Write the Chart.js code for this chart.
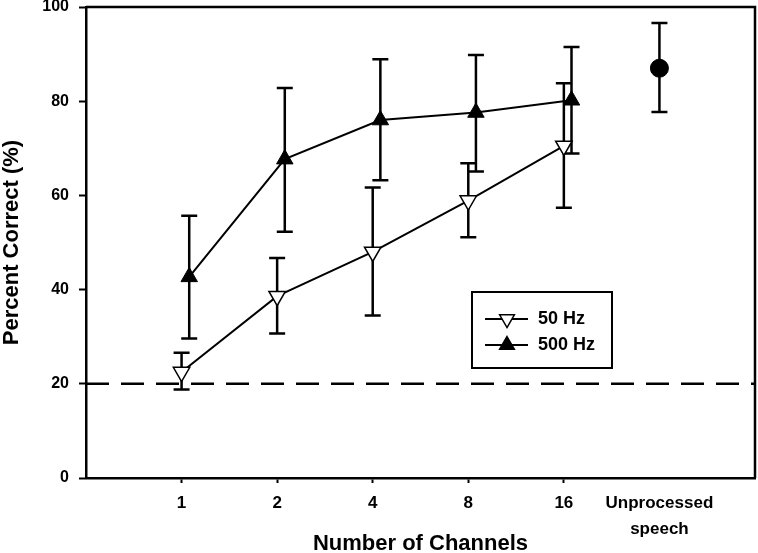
<!DOCTYPE html>
<html>
<head>
<meta charset="utf-8">
<script src="https://cdn.jsdelivr.net/npm/chart.js@4"></script>
<style>
  html, body { margin: 0; padding: 0; background: #fff; }
  #wrap { width: 758px; height: 553px; }
</style>
</head>
<body>
<div id="wrap"><canvas id="c" width="758" height="553"></canvas></div>
<script>
// ---- data ----
const channelLabels = ['1', '2', '4', '8', '16', ['Unprocessed', 'speech']];
const hz50Mean  = [22.5, 38.6, 48.0, 58.9, 70.5];
const hz50Upper = [26.6, 46.7, 61.7, 66.8, 83.8];
const hz50Lower = [18.8, 30.7, 34.5, 51.1, 57.4];
const hz500Mean  = [42.7, 67.7, 76.0, 77.6, 80.2];
const hz500Upper = [55.7, 82.8, 88.9, 89.8, 91.5];
const hz500Lower = [29.6, 52.3, 63.2, 65.1, 68.9];
const unprocMean  = [87.0];
const unprocUpper = [96.6];
const unprocLower = [77.7];
const chanceLevel = 20;
const yTicks = [0, 20, 40, 60, 80, 100];
const seriesOffset500 = 0.08;

const FONT = "'Liberation Sans', Arial, Helvetica, sans-serif";

const catPos = channelLabels.map((_, i) => i + 1);
const pts = (xs, ys, off) => ys.map((v, i) => ({ x: xs[i] + (off || 0), y: v }));

const errorBarPlugin = {
  id: 'errorBars',
  beforeDatasetsDraw(chart) {
    const ctx = chart.ctx;
    const ys = chart.scales.y;
    ctx.save();
    ctx.strokeStyle = '#000';
    ctx.lineWidth = 2.5;
    chart.data.datasets.forEach((ds, di) => {
      if (!ds.errUpper) return;
      const meta = chart.getDatasetMeta(di);
      meta.data.forEach((el, i) => {
        const x = el.x;
        const yt = ys.getPixelForValue(ds.errUpper[i]);
        const yb = ys.getPixelForValue(ds.errLower[i]);
        const cap = 8;
        ctx.beginPath();
        ctx.moveTo(x, yt); ctx.lineTo(x, yb);
        ctx.moveTo(x - cap, yt); ctx.lineTo(x + cap, yt);
        ctx.moveTo(x - cap, yb); ctx.lineTo(x + cap, yb);
        ctx.stroke();
      });
    });
    ctx.restore();
  }
};

const framePlugin = {
  id: 'frame',
  afterDraw(chart) {
    const { ctx, chartArea: a } = chart;
    ctx.save();
    ctx.strokeStyle = '#000';
    ctx.lineWidth = 2.5;
    ctx.beginPath();
    ctx.moveTo(a.left, a.top);
    ctx.lineTo(a.right, a.top);
    ctx.lineTo(a.right, a.bottom);
    ctx.stroke();
    ctx.restore();
  }
};

function tri(ctx, x, y, r, down, fill) {
  const s = down ? -1 : 1;
  ctx.beginPath();
  ctx.moveTo(x, y - s * r);
  ctx.lineTo(x + r * Math.sin(Math.PI * 2 / 3), y + s * r / 2);
  ctx.lineTo(x - r * Math.sin(Math.PI * 2 / 3), y + s * r / 2);
  ctx.closePath();
  ctx.fillStyle = fill;
  ctx.fill();
  ctx.lineWidth = 1.5;
  ctx.strokeStyle = '#000';
  ctx.stroke();
}

const legendPlugin = {
  id: 'boxLegend',
  afterDraw(chart) {
    const ctx = chart.ctx;
    ctx.save();
    ctx.strokeStyle = '#000';
    ctx.lineWidth = 2;
    ctx.strokeRect(472, 292, 140, 76);
    const items = [
      { label: '50 Hz', y: 319, down: true, fill: '#fff' },
      { label: '500 Hz', y: 345, down: false, fill: '#000' }
    ];
    items.forEach(it => {
      ctx.beginPath();
      ctx.strokeStyle = '#000';
      ctx.lineWidth = 2;
      ctx.moveTo(485, it.y); ctx.lineTo(528, it.y);
      ctx.stroke();
      tri(ctx, 507, it.y, 8.5, it.down, it.fill);
      ctx.fillStyle = '#000';
      ctx.font = "bold 18px " + FONT;
      ctx.textAlign = 'left';
      ctx.textBaseline = 'middle';
      ctx.fillText(it.label, 538, it.y);
    });
    ctx.restore();
  }
};

const zeroPad = (s) => { s.paddingTop = 0; s.paddingBottom = 0; s.paddingLeft = 0; s.paddingRight = 0; };

new Chart(document.getElementById('c'), {
  type: 'line',
  data: {
    datasets: [
      {
        label: 'chance',
        data: [{ x: 0, y: chanceLevel }, { x: channelLabels.length + 1, y: chanceLevel }],
        borderColor: '#000', borderWidth: 2.5, borderDash: [23, 12],
        pointRadius: 0, order: 10
      },
      {
        label: '50 Hz',
        data: pts(catPos, hz50Mean),
        errUpper: hz50Upper, errLower: hz50Lower,
        borderColor: '#000', borderWidth: 2,
        pointStyle: 'triangle', rotation: 180, pointRadius: 9.5,
        pointBackgroundColor: '#fff', pointBorderColor: '#000', pointBorderWidth: 1.5,
        order: 2
      },
      {
        label: '500 Hz',
        data: pts(catPos, hz500Mean, seriesOffset500),
        errUpper: hz500Upper, errLower: hz500Lower,
        borderColor: '#000', borderWidth: 2,
        pointStyle: 'triangle', pointRadius: 9.5,
        pointBackgroundColor: '#000', pointBorderColor: '#000', pointBorderWidth: 1,
        order: 1
      },
      {
        label: 'Unprocessed',
        data: pts([catPos[5]], unprocMean),
        errUpper: unprocUpper, errLower: unprocLower,
        showLine: false,
        pointStyle: 'circle', pointRadius: 9,
        pointBackgroundColor: '#000', pointBorderColor: '#000',
        order: 0
      }
    ]
  },
  options: {
    responsive: false,
    animation: false,
    events: [],
    clip: false,
    layout: { autoPadding: false, padding: { top: 7, right: 3, left: 0, bottom: 0 } },
    plugins: { legend: { display: false }, tooltip: { enabled: false } },
    scales: {
      x: {
        type: 'linear',
        min: 0, max: channelLabels.length + 1,
        afterBuildTicks: (s) => { s.ticks = catPos.map(v => ({ value: v })); },
        afterFit: (s) => { s.height = 75; zeroPad(s); },
        border: { display: true, color: '#000', width: 2.5 },
        grid: {
          drawOnChartArea: false, drawTicks: true, tickLength: 5,
          tickWidth: 2,
          tickColor: (c) => (c.tick && c.tick.value === catPos[5]) ? 'rgba(0,0,0,0)' : '#000'
        },
        ticks: {
          autoSkip: false, maxRotation: 0, padding: 7,
          color: '#000',
          font: { family: FONT, size: 17, weight: 'bold', lineHeight: 1.55 },
          callback: (v) => channelLabels[v - 1]
        },
        title: {
          display: true, text: 'Number of Channels', color: '#000',
          font: { family: FONT, size: 22, weight: 'bold', lineHeight: 1 },
          padding: { top: 0, bottom: -2 }
        }
      },
      y: {
        min: 0, max: 100,
        afterBuildTicks: (s) => { s.ticks = yTicks.map(v => ({ value: v })); },
        afterFit: (s) => { s.width = 86; zeroPad(s); },
        border: { display: true, color: '#000', width: 2.5 },
        grid: { drawOnChartArea: false, drawTicks: true, tickLength: 7, tickWidth: 2, tickColor: '#000' },
        ticks: {
          padding: 10, color: '#000',
          font: { family: FONT, size: 16, weight: 'bold', lineHeight: 1 }
        },
        title: {
          display: true, text: 'Percent Correct (%)', color: '#000',
          font: { family: FONT, size: 22, weight: 'bold', lineHeight: 1 },
          padding: { top: 1, bottom: 0 }
        }
      }
    }
  },
  plugins: [errorBarPlugin, framePlugin, legendPlugin]
});
</script>
</body>
</html>
